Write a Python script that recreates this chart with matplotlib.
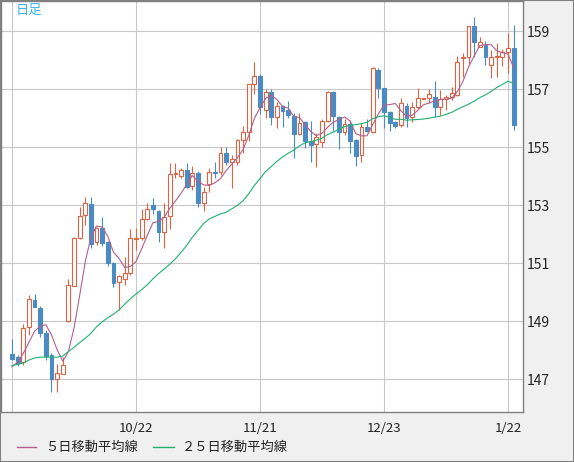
import matplotlib
matplotlib.use('Agg')
import matplotlib.pyplot as plt
from matplotlib.lines import Line2D
from matplotlib.patches import Rectangle
import numpy as np
import pandas as pd

plt.rcParams['font.family'] = ['Noto Sans CJK JP', 'DejaVu Sans']

# 日足データ (90本)
opens = [147.88, 147.78, 147.61, 148.81, 149.74, 149.47, 148.59, 147.84, 147.03, 147.20,
         149.02, 150.24, 151.87, 152.66, 153.05, 151.73, 152.21, 151.74, 151.01, 150.37,
         150.45, 150.66, 151.85, 151.89, 152.52, 153.01, 152.81, 152.08, 152.64, 154.07,
         154.02, 154.22, 153.67, 154.11, 153.08, 153.73, 154.16, 154.14, 154.80, 154.49,
         154.51, 155.26, 155.52, 157.18, 157.46, 156.29, 156.90, 156.06, 156.44, 156.29,
         156.09, 155.48, 155.87, 155.22, 155.11, 155.18, 155.91, 156.92, 156.06, 155.55,
         155.80, 155.26, 154.74, 155.72, 155.55, 157.67, 157.04, 156.21, 155.89, 155.78,
         156.43, 156.04, 156.41, 156.68, 156.69, 156.73, 156.39, 156.67, 156.75, 156.81,
         158.07, 158.13, 159.19, 158.48, 158.53, 157.84, 158.11, 158.13, 158.30, 158.42]
highs = [148.40, 147.85, 148.90, 149.91, 149.94, 149.54, 148.71, 147.90, 147.52, 147.79,
         150.45, 151.92, 152.96, 153.28, 153.28, 152.25, 152.59, 151.78, 151.05, 150.60,
         151.21, 152.19, 152.21, 152.87, 153.08, 153.27, 152.85, 153.08, 154.46, 154.46,
         154.28, 154.48, 154.36, 154.18, 153.65, 154.28, 154.49, 155.01, 155.01, 154.74,
         155.28, 155.75, 157.20, 157.94, 157.53, 157.01, 157.01, 156.58, 156.46, 156.60,
         156.18, 156.18, 155.92, 155.91, 155.49, 155.98, 156.95, 156.95, 156.09, 155.98,
         155.95, 155.28, 155.83, 155.98, 157.77, 157.73, 157.06, 156.26, 155.93, 156.72,
         156.52, 156.56, 157.04, 156.72, 157.02, 157.29, 156.98, 156.81, 157.08, 158.16,
         158.25, 159.20, 159.49, 158.80, 158.68, 158.36, 158.61, 158.39, 158.94, 159.22]
lows = [147.67, 147.45, 147.50, 148.53, 149.49, 148.48, 147.67, 146.58, 146.58, 147.18,
        148.99, 150.24, 151.83, 152.33, 151.52, 151.64, 151.60, 150.91, 150.20, 149.40,
        150.26, 150.62, 151.46, 151.81, 152.50, 152.71, 151.75, 151.52, 152.18, 153.94,
        153.94, 153.59, 153.53, 152.96, 152.81, 153.48, 153.94, 154.05, 154.40, 153.61,
        154.40, 154.80, 155.22, 156.84, 156.15, 156.01, 155.78, 155.66, 155.72, 156.01,
        154.65, 155.43, 154.99, 154.51, 154.34, 155.03, 155.89, 155.57, 154.94, 155.43,
        154.82, 154.36, 154.51, 155.55, 155.50, 156.70, 155.66, 155.57, 155.67, 155.72,
        155.72, 155.89, 156.32, 156.66, 156.52, 156.06, 156.12, 156.29, 156.64, 156.78,
        157.44, 157.84, 158.11, 158.45, 157.84, 157.41, 157.42, 157.81, 157.56, 155.60]
closes = [147.72, 147.58, 148.76, 149.76, 149.51, 148.59, 147.82, 147.03, 147.21, 147.49,
          150.25, 151.87, 152.64, 153.08, 151.66, 152.21, 151.70, 151.03, 150.34, 150.58,
          150.66, 151.87, 151.89, 152.52, 152.87, 152.87, 152.10, 152.61, 154.08, 154.11,
          154.22, 153.65, 154.11, 153.08, 153.48, 154.14, 154.12, 154.80, 154.49, 154.59,
          155.26, 155.52, 157.18, 157.46, 156.41, 156.90, 156.06, 156.44, 156.27, 156.12,
          155.48, 155.86, 155.22, 155.09, 155.37, 155.91, 156.90, 156.09, 155.55, 155.80,
          155.23, 154.72, 155.70, 155.57, 157.75, 157.04, 156.21, 155.83, 155.75, 156.54,
          156.03, 156.41, 156.69, 156.70, 156.83, 156.39, 156.67, 156.75, 156.87, 157.94,
          158.13, 159.19, 158.65, 158.65, 158.11, 158.13, 158.16, 158.30, 158.42, 155.78]

# 表示期間より前のデータを含む移動平均の先頭部分
ma5_head = [147.44, 147.60, 147.90, 148.28]
ma25_head = [147.48, 147.52, 147.57, 147.67, 147.74, 147.77, 147.77, 147.77, 147.77, 147.81,
             147.96, 148.11, 148.27, 148.42, 148.59, 148.82, 148.99, 149.13, 149.25, 149.40,
             149.60, 149.78, 149.95, 150.10]

tick_pos = [0, 22, 44, 66, 88]
tick_labels = ['', '10/22', '11/21', '12/23', '1/22']
price_ticks = [147, 149, 151, 153, 155, 157, 159]

c_up = '#dd6342'
c_dn = '#4b8bc3'
c_ma5 = '#b45f8c'
c_ma25 = '#22b070'

o = np.array(opens)
h = np.array(highs)
l = np.array(lows)
c = np.array(closes)
x = np.arange(len(c))

s = pd.Series(c)
ma5 = s.rolling(5).mean().to_numpy()
ma5[:len(ma5_head)] = ma5_head
ma25 = s.rolling(25).mean().to_numpy()
ma25[:len(ma25_head)] = ma25_head

W, H = 574, 462
fig = plt.figure(figsize=(W / 100, H / 100), dpi=100, facecolor='#f0f0f0')
ax = fig.add_axes([1 / W, 1 - 412 / H, 522 / W, 411 / H])
ax.set_facecolor('white')

px = 5.636  # 1本あたりのピクセル
ax.set_xlim((1 - 12) / px, (523 - 12) / px)
ax.set_ylim(160.086 - 412 / 29, 160.086 - 1 / 29)

up = c >= o
ax.vlines(x, l, h, colors=np.where(up, c_up, c_dn), lw=0.8, zorder=3)
ax.bar(x[up], np.maximum((c - o)[up], 0.02), bottom=o[up], width=0.68,
       facecolor='white', edgecolor=c_up, lw=0.8, zorder=4)
ax.bar(x[~up], np.maximum((o - c)[~up], 0.02), bottom=c[~up], width=0.68,
       facecolor=c_dn, edgecolor=c_dn, lw=0.8, zorder=4)

ax.plot(x, ma5, color=c_ma5, lw=0.8, zorder=5)
ax.plot(x, ma25, color=c_ma25, lw=0.8, zorder=5)

ax.set_axisbelow(True)
ax.grid(color='#c8c8c8', lw=0.8)
ax.set_xticks(tick_pos)
ax.set_xticklabels(tick_labels)
ax.set_yticks(price_ticks)
ax.yaxis.tick_right()
ax.tick_params(axis='y', length=0, pad=3, labelsize=10, labelcolor='#222222')
ax.tick_params(axis='x', length=0, pad=7, labelsize=9.5, labelcolor='#222222')
for sp in ax.spines.values():
    sp.set_color('#808080')
    sp.set_linewidth(1)

fig.text(16 / W, 1 - 10 / H, '日足', color='#3ab4e6', fontsize=9.5, va='center')

ly = 1 - 447 / H
fig.add_artist(Line2D([17 / W, 36 / W], [ly, ly], color=c_ma5, lw=1))
fig.text(45 / W, ly, '５日移動平均線', fontsize=9.5, va='center', color='#222222')
fig.add_artist(Line2D([153 / W, 174 / W], [ly, ly], color=c_ma25, lw=1))
fig.text(182 / W, ly, '２５日移動平均線', fontsize=9.5, va='center', color='#222222')

fig.add_artist(Rectangle((0, 0), 1, 1, transform=fig.transFigure, fill=False,
                         edgecolor='#808080', lw=1.5))

fig.savefig('out.png', dpi=100, facecolor=fig.get_facecolor())
